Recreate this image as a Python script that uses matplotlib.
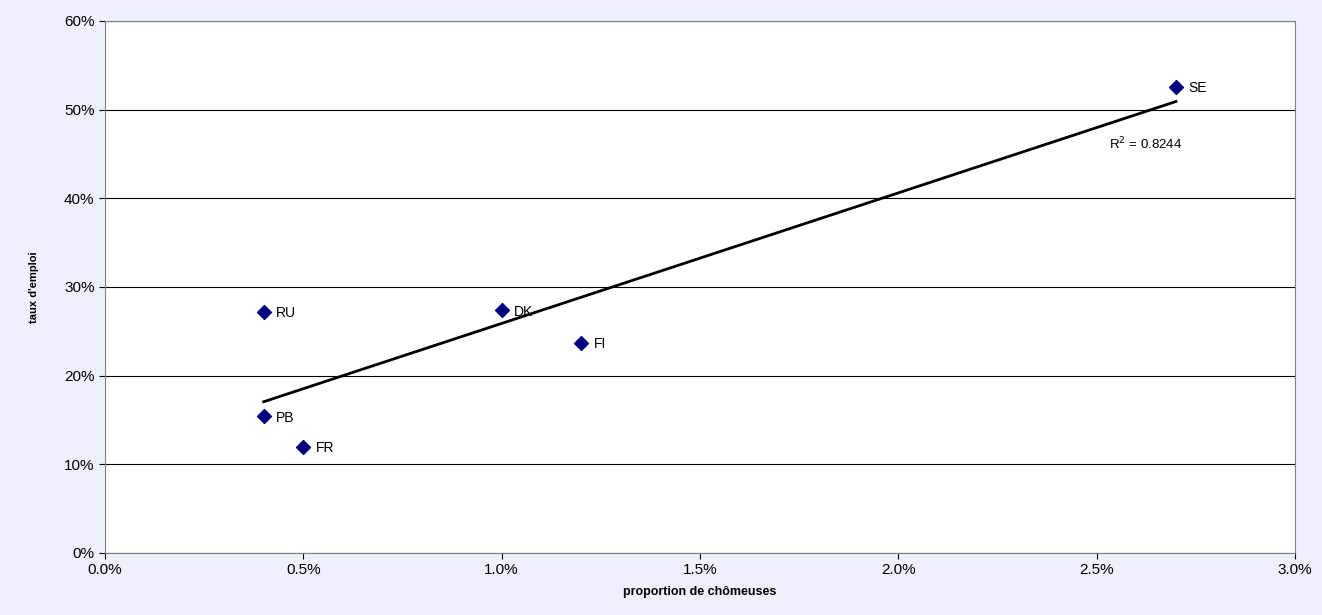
import numpy as np
import matplotlib as mpl
mpl.use('Agg')
import matplotlib.pyplot as plt

countries = ['RU', 'PB', 'FR', 'DK', 'FI', 'SE']
chomeuses = [0.4, 0.4, 0.5, 1.0, 1.2, 2.7]
emploi = [27.2, 15.4, 12.0, 27.4, 23.7, 52.6]

plt.rcParams['font.family'] = ['Liberation Sans', 'DejaVu Sans']
fig = plt.figure(figsize=(13.22, 6.15), dpi=100, facecolor='#eef0fb')
ax = fig.add_axes([105/1322, 1-553/615, 1190/1322, 532/615])
ax.set_facecolor('white')

ax.scatter(chomeuses, emploi, marker='D', s=50, color='#000080', zorder=3)
for c, x, y in zip(countries, chomeuses, emploi):
    ax.annotate(c, (x, y), xytext=(9, -4), textcoords='offset points', fontsize=10)

x = np.array(chomeuses)
y = np.array(emploi)
a, b = np.polyfit(x, y, 1)
r2 = np.corrcoef(x, y)[0, 1] ** 2
xs = np.array([x.min(), x.max()])
ax.plot(xs, a * xs + b, color='black', lw=2, zorder=2)
ax.text(2.53, 45.5, 'R$^2$ = %.4f' % r2, fontsize=9.5)

ax.set_xlim(0, 3)
ax.set_ylim(0, 60)
ax.set_xticks(np.arange(0, 3.01, 0.5))
ax.set_xticklabels(['%.1f%%' % v for v in np.arange(0, 3.01, 0.5)], fontsize=11)
ax.set_yticks(range(0, 61, 10))
ax.set_yticklabels(['%d%%' % v for v in range(0, 61, 10)], fontsize=11)
ax.grid(axis='y', color='black', lw=0.8)
ax.set_axisbelow(True)
for s in ax.spines.values():
    s.set_color('#808080')
ax.tick_params(direction='out', length=4)
ax.set_xlabel('proportion de chômeuses', fontsize=9, fontweight='bold', labelpad=6)
ax.set_ylabel("taux d'emploi", fontsize=8, fontweight='bold', labelpad=18)

plt.savefig('out.png', dpi=100, facecolor=fig.get_facecolor())
